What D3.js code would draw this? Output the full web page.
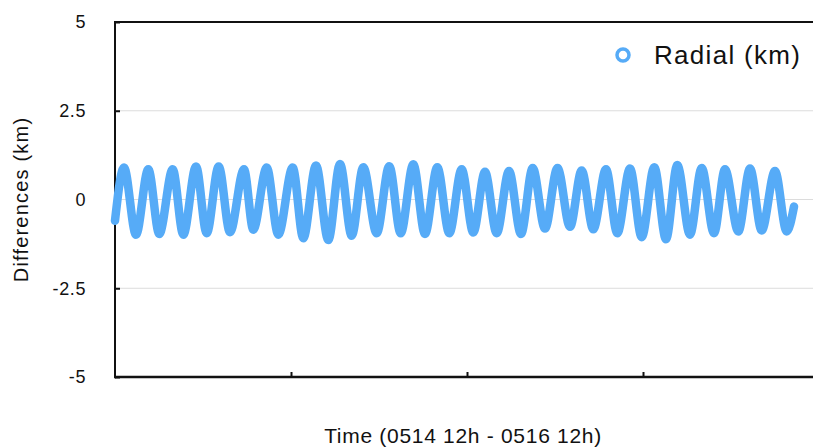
<!DOCTYPE html>
<html>
<head>
<meta charset="utf-8">
<script src="https://cdn.jsdelivr.net/npm/d3@7"></script>
<style>
  html, body { margin: 0; padding: 0; background: #fff; }
  svg text { font-family: "Liberation Sans", Arial, Helvetica, sans-serif; fill: #111; }
</style>
</head>
<body>
<script>
// hours since 0514 12h (peaks and troughs)
const hours = [0, 0.614, 1.432, 2.270, 3.020, 3.934, 4.657, 5.523, 6.252, 7.070, 7.841, 8.795, 9.429,
  10.343, 11.134, 12.116, 12.838, 13.705, 14.543, 15.341, 16.139, 16.929, 17.843, 18.702, 19.479,
  20.338, 21.136, 21.975, 22.793, 23.638, 24.429, 25.227, 26.025, 26.864, 27.682, 28.480, 29.318,
  30.170, 31.023, 31.820, 32.611, 33.477, 34.248, 35.114, 35.911, 36.771, 37.568, 38.339, 39.204,
  40.002, 40.841, 41.591, 42.498, 43.295, 44.093, 45.000, 45.798, 46.295];
const radial = [-0.6, 0.9, -0.99, 0.85, -0.97, 0.85, -0.99, 0.93, -0.95, 0.93, -0.92, 0.85, -0.85, 0.9, -0.99,
  0.9, -1.09, 0.96, -1.14, 1.0, -1.02, 0.91, -0.95, 0.94, -0.95, 0.99, -0.97, 0.91, -0.95,
  0.85, -0.93, 0.78, -0.95, 0.8, -0.97, 0.89, -0.82, 0.89, -0.77, 0.82, -0.84, 0.85, -0.95,
  0.87, -1.06, 0.91, -1.12, 0.97, -0.99, 0.89, -0.95, 0.85, -0.9, 0.87, -0.87, 0.8, -0.9, -0.2];

const yTicks = [5, 2.5, 0, -2.5, -5];
const xTicks = [12, 24, 36];
const seriesName = 'Radial (km)';
const xTitle = 'Time (0514 12h - 0516 12h)';
const yTitle = 'Differences (km)';

const width = 813, height = 447;
const plotLeft = 115, plotTop = 22, plotBottom = 377, plotRight = 819;
const color = '#56abf7';

const svg = d3.select('body').append('svg')
  .attr('width', width)
  .attr('height', height);

const x = d3.scaleLinear().domain([0, 48]).range([plotLeft, plotRight]);
const y = d3.scaleLinear().domain([-5, 5]).range([plotBottom, plotTop]);

// gridlines
svg.append('g')
  .selectAll('line')
  .data(yTicks.filter(d => d !== 5 && d !== -5))
  .enter()
  .append('line')
  .attr('x1', plotLeft).attr('x2', width)
  .attr('y1', d => y(d)).attr('y2', d => y(d))
  .attr('stroke', '#dcdcdc')
  .attr('stroke-width', 1);

// y axis, ticks pointing inward
const yAxis = svg.append('g')
  .attr('transform', `translate(${plotLeft},0)`)
  .call(d3.axisRight(y).tickValues(yTicks).tickSize(5).tickFormat(''));
yAxis.select('.domain').remove();
yAxis.selectAll('line').attr('stroke', '#111').attr('stroke-width', 2);

svg.append('g')
  .selectAll('text')
  .data(yTicks)
  .enter()
  .append('text')
  .attr('x', 86)
  .attr('y', d => y(d))
  .attr('dy', '0.35em')
  .attr('text-anchor', 'end')
  .style('font-size', '18px')
  .style('letter-spacing', '0.6px')
  .text(d => d);

// x axis ticks pointing up
const xAxis = svg.append('g')
  .attr('transform', `translate(0,${plotBottom})`)
  .call(d3.axisTop(x).tickValues(xTicks).tickSize(5).tickFormat(''));
xAxis.select('.domain').remove();
xAxis.selectAll('line').attr('stroke', '#111').attr('stroke-width', 2);

// frame lines
svg.append('line')
  .attr('x1', plotLeft).attr('x2', width)
  .attr('y1', plotBottom).attr('y2', plotBottom)
  .attr('stroke', '#111').attr('stroke-width', 2.5);
svg.append('line')
  .attr('x1', plotLeft).attr('x2', width)
  .attr('y1', plotTop).attr('y2', plotTop)
  .attr('stroke', '#111').attr('stroke-width', 2);
svg.append('line')
  .attr('x1', plotLeft).attr('x2', plotLeft)
  .attr('y1', plotTop - 1).attr('y2', plotBottom + 1.25)
  .attr('stroke', '#111').attr('stroke-width', 2);

// series
const line = d3.line()
  .x((d, i) => x(hours[i]))
  .y(d => y(d))
  .curve(d3.curveMonotoneX);

svg.append('path')
  .datum(radial)
  .attr('d', line)
  .attr('fill', 'none')
  .attr('stroke', color)
  .attr('stroke-width', 8.5)
  .attr('stroke-linecap', 'round')
  .attr('stroke-linejoin', 'round');

// legend
svg.append('circle')
  .attr('cx', 623).attr('cy', 55).attr('r', 6)
  .attr('fill', '#fff')
  .attr('stroke', color)
  .attr('stroke-width', 3.5);
svg.append('text')
  .attr('x', 654).attr('y', 64)
  .style('font-size', '26px')
  .style('letter-spacing', '1.3px')
  .text(seriesName);

// axis titles
svg.append('text')
  .attr('x', 463)
  .attr('y', 443)
  .attr('text-anchor', 'middle')
  .style('font-size', '21px')
  .style('letter-spacing', '0.7px')
  .text(xTitle);

svg.append('text')
  .attr('transform', `translate(28,${(plotTop + plotBottom) / 2}) rotate(-90)`)
  .attr('text-anchor', 'middle')
  .style('font-size', '20px')
  .style('letter-spacing', '1.2px')
  .text(yTitle);
</script>
</body>
</html>
